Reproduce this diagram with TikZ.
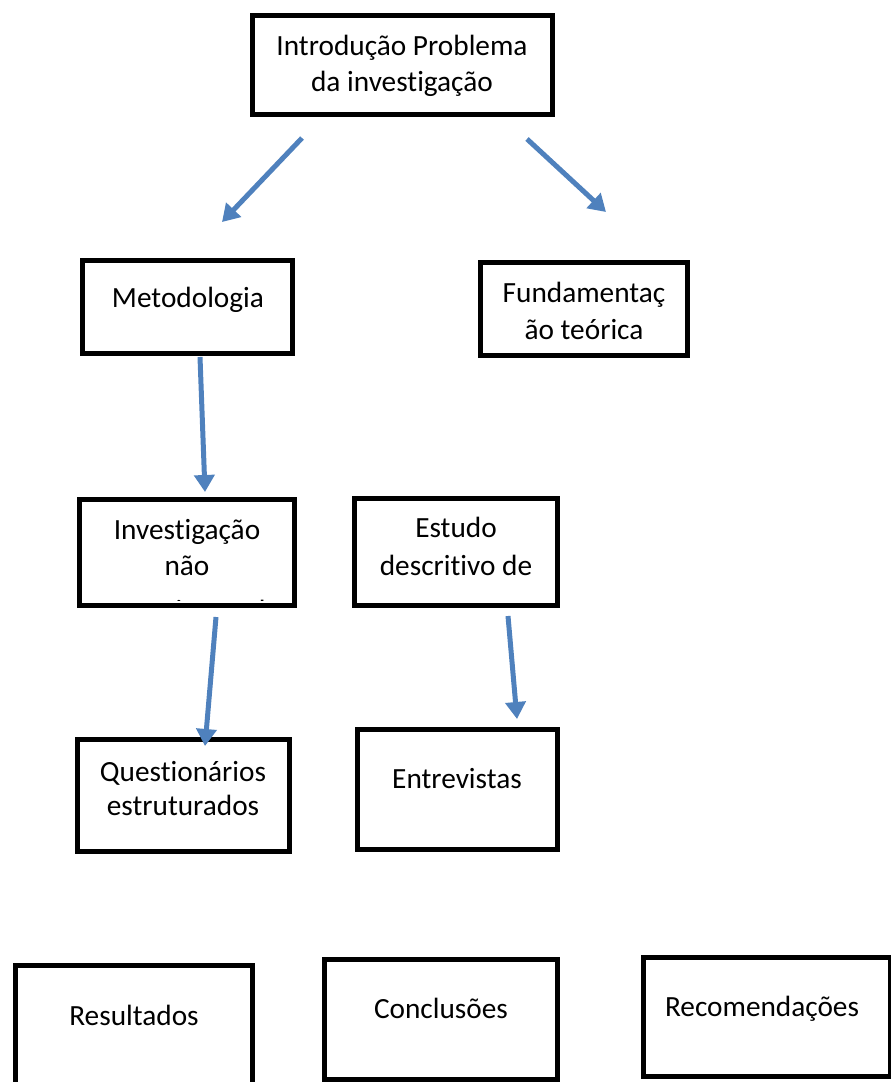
\documentclass[tikz,border=0pt]{standalone}
\usepackage{fontspec}
\setmainfont{Carlito}[Ligatures=NoCommon]
\usetikzlibrary{arrows.meta}
\definecolor{arrowblue}{HTML}{4F81BD}
\tikzset{
  box/.style={draw=black, line width=5pt, rectangle, inner sep=0pt, fill=white},
  lbl/.style={inner sep=0pt, anchor=base, font=\fontsize{29.3}{36}\selectfont},
  flow/.style={draw=arrowblue, line width=5pt, -{Triangle[length=17pt,width=20pt]}},
}
\begin{document}
\begin{tikzpicture}[x=1pt,y=-1pt]
\useasboundingbox (0,0) rectangle (891,1082);
% boxes
\node[box, minimum width=300pt, minimum height=99pt] (intro) at (402.5,65) {};
\node[box, minimum width=210pt, minimum height=93pt] (metod) at (187.5,307) {};
\node[box, minimum width=207pt, minimum height=93pt] (fund) at (584,309) {};
\node[box, minimum width=215pt, minimum height=106pt] (inv) at (187,552.5) {};
\node[box, minimum width=203pt, minimum height=107pt] (est) at (456,552) {};
\node[box, minimum width=212pt, minimum height=112pt] (quest) at (183.5,795.5) {};
\node[box, minimum width=200pt, minimum height=120pt] (entr) at (457.5,789.5) {};
\node[box, minimum width=237pt, minimum height=130pt] (res) at (134,1030) {};
\node[box, minimum width=233pt, minimum height=120pt] (conc) at (441,1019.5) {};
\node[box, minimum width=247pt, minimum height=119pt] (recom) at (767,1017) {};
% texts
\node[lbl] (intro-t1) at (402,55) {Introdução Problema};
\node[lbl] (intro-t2) at (402,91) {da investigação};
\node[lbl] (metod-t) at (188,307) {Metodologia};
\node[lbl] (fund-t1) at (584,302) {Fundamentaç};
\node[lbl] (fund-t2) at (584,339) {ão teórica};
\node[lbl] (inv-t1) at (187,539) {Investigação};
\node[lbl] (inv-t2) at (187,575) {não};
\begin{scope}
  \clip (80,500) rectangle (294,600);
  \node[lbl] (inv-t3) at (187,620.5) {experimental};
\end{scope}
\node[lbl] (est-t1) at (456,537) {Estudo};
\node[lbl] (est-t2) at (456,575) {descritivo de};
\node[lbl] (quest-t1) at (183,781) {Questionários};
\node[lbl] (quest-t2) at (183,815) {estruturados};
\node[lbl] (entr-t) at (457,788) {Entrevistas};
\node[lbl] (res-t) at (134,1025) {Resultados};
\node[lbl] (conc-t) at (441,1018) {Conclusões};
\node[lbl] (recom-t) at (762,1016) {Recomendações};
% arrow endpoints
\coordinate (a1s) at (302,138); \coordinate (a1e) at (222,222);
\coordinate (a2s) at (527,139); \coordinate (a2e) at (606,212);
\coordinate (a3s) at (200,357); \coordinate (a3e) at (205,492);
\coordinate (a4s) at (216,617); \coordinate (a4e) at (205,746);
\coordinate (a5s) at (508,616); \coordinate (a5e) at (517,719);
\draw[flow] (a1s) -- (a1e);
\draw[flow] (a2s) -- (a2e);
\draw[flow] (a3s) -- (a3e);
\draw[flow] (a4s) -- (a4e);
\draw[flow] (a5s) -- (a5e);
\end{tikzpicture}
\end{document}
